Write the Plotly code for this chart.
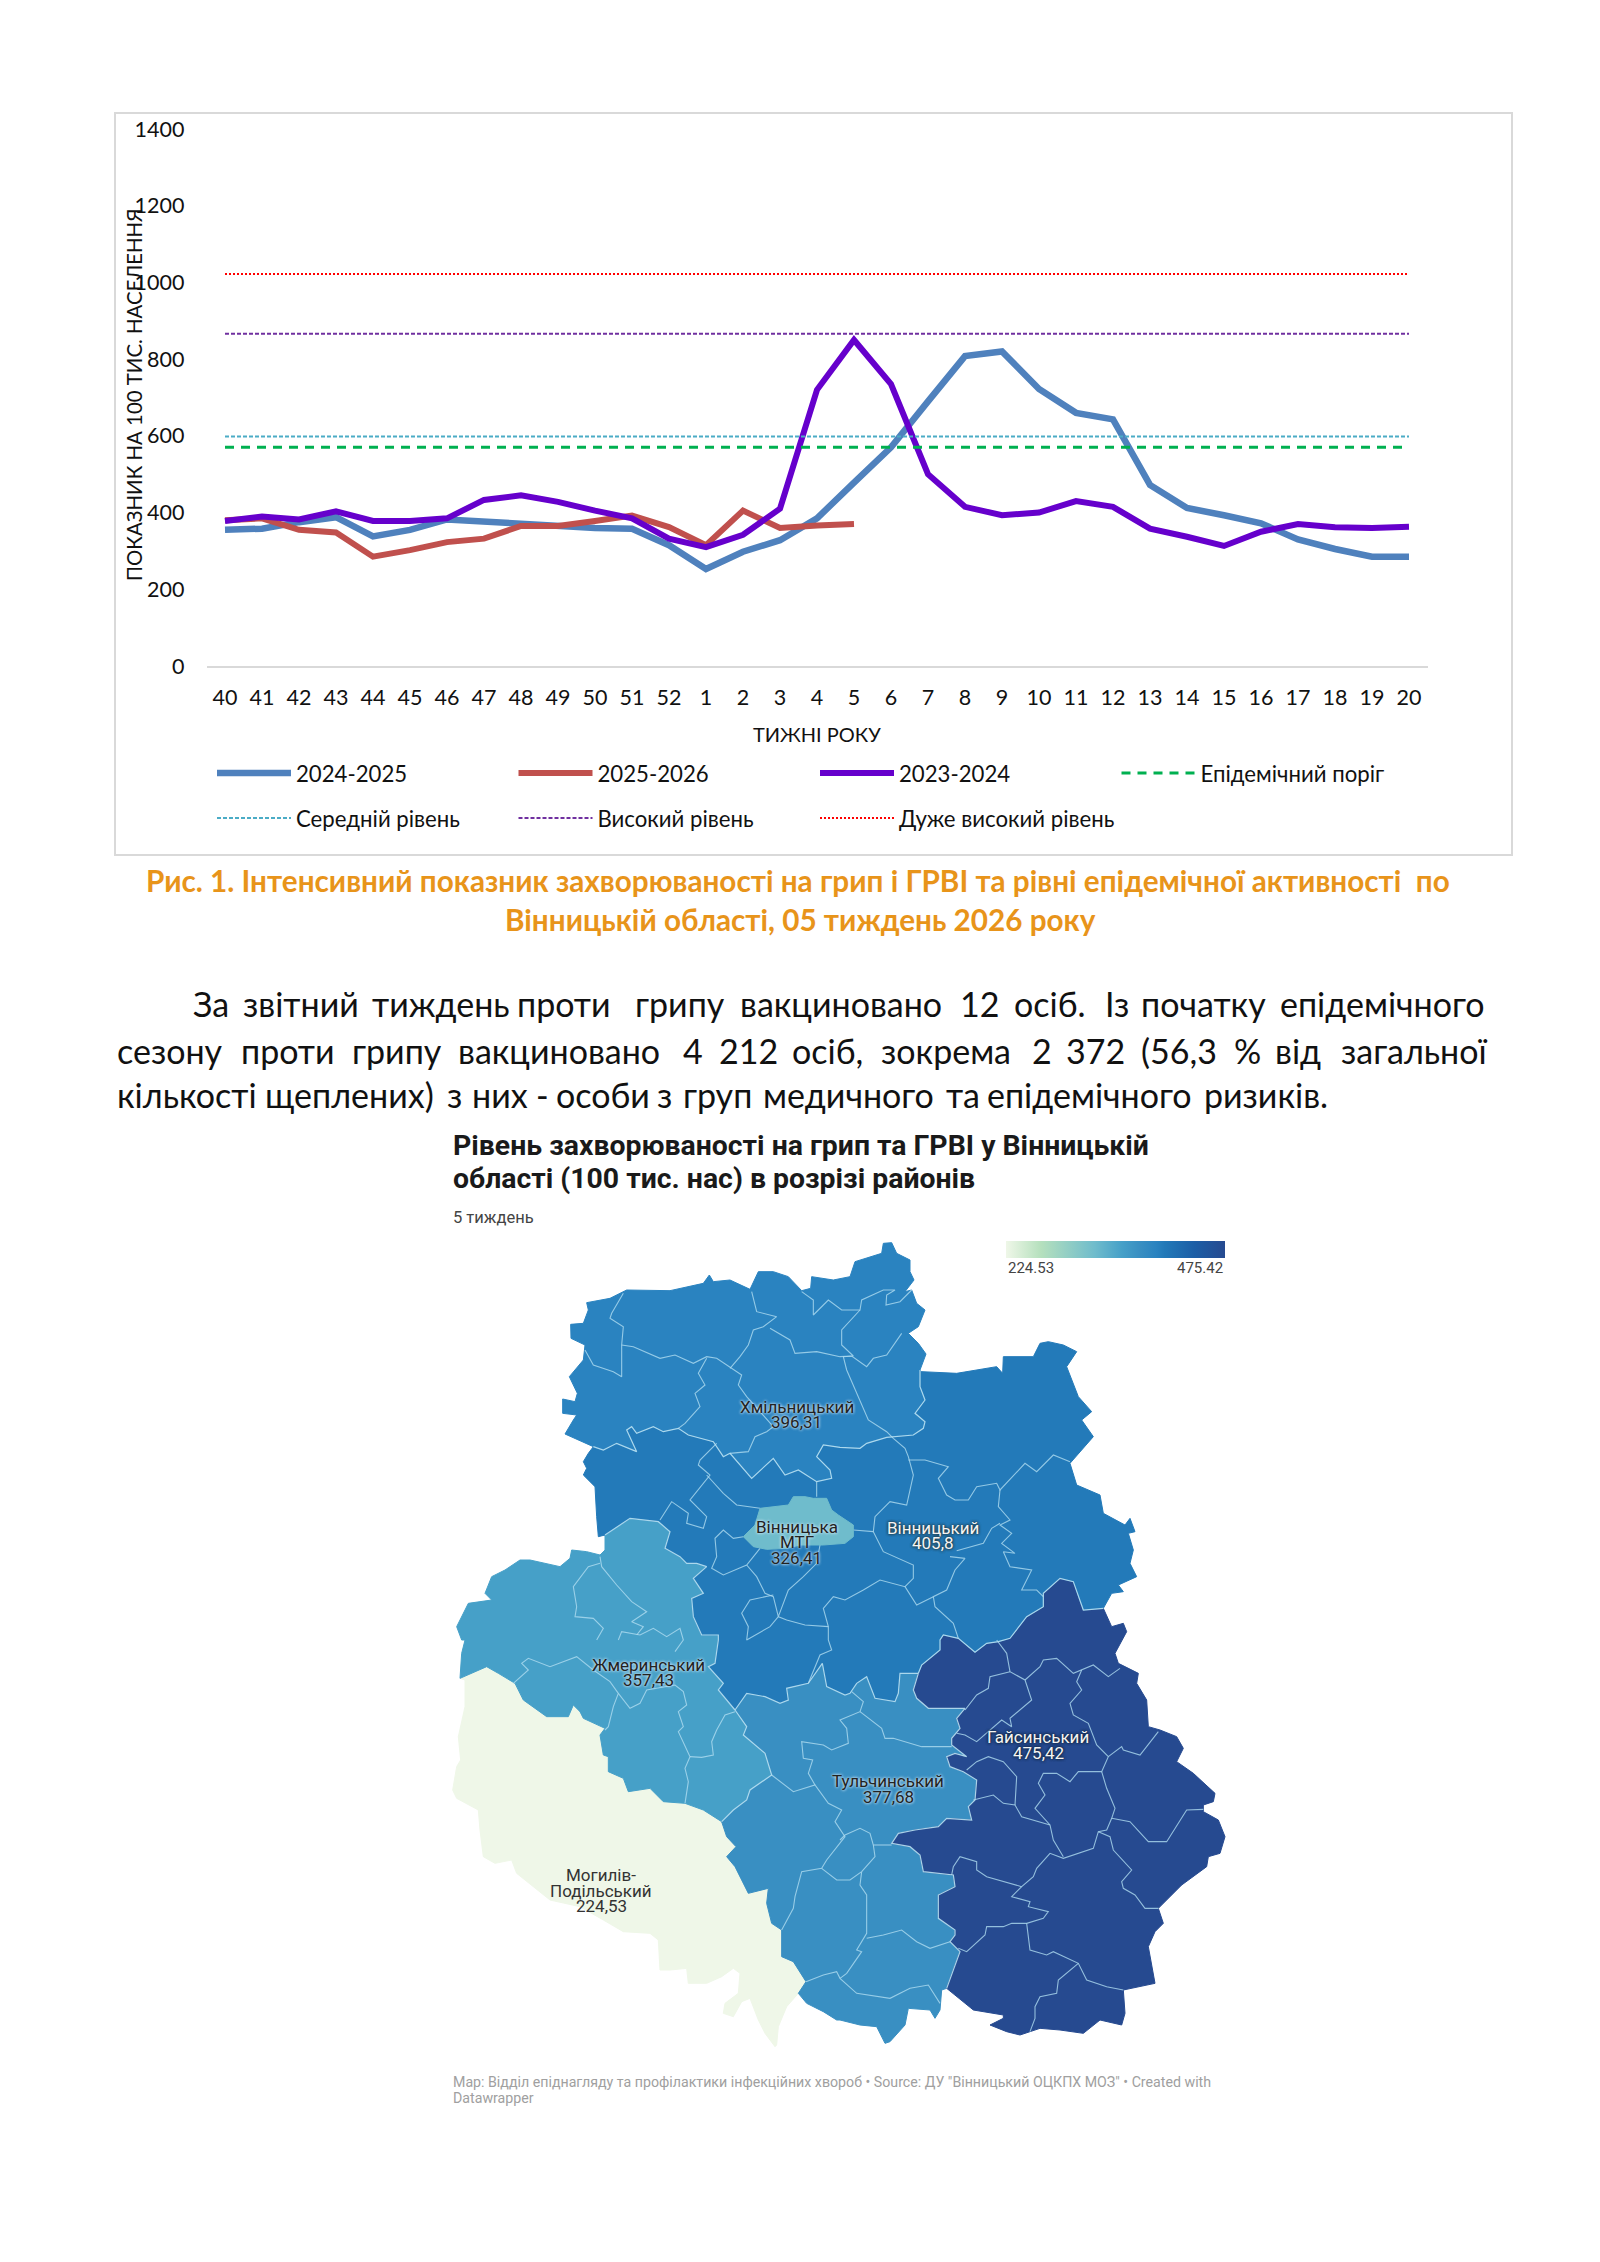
import plotly.graph_objects as go
from plotly.colors import sample_colorscale

# ---------- chart data ----------
weeks = [str(w) for w in list(range(40, 53)) + list(range(1, 21))]
season_2024_2025 = [355, 358, 375, 388, 338, 355, 382, 376, 372, 368, 360, 358, 315, 253, 298, 328, 385,
                    478, 570, 690, 808, 820, 722, 660, 643, 472, 412, 393, 372, 330, 305, 285, 285]
season_2025_2026 = [380, 385, 355, 348, 285, 302, 323, 332, 365, 365, 378, 392, 362, 315, 405, 360, 366, 370]
season_2023_2024 = [378, 390, 382, 403, 378, 378, 385, 433, 445, 428, 405, 385, 332, 310, 342, 410, 720,
                    850, 735, 500, 415, 393, 400, 430, 415, 358, 337, 313, 350, 370, 362, 360, 363]
epidemic_threshold = [570] * len(weeks)
medium_level = [598] * len(weeks)
high_level = [866] * len(weeks)
very_high_level = [1022] * len(weeks)
y_ticks = [0, 200, 400, 600, 800, 1000, 1200, 1400]

# ---------- map data: district values ----------
district_names = ["Хмільницький", "Вінницький", "Вінницька МТГ", "Жмеринський", "Тульчинський", "Гайсинський", "Могилів-Подільський"]
district_values = [396.31, 405.8, 326.41, 357.43, 377.68, 475.42, 224.53]
value_min, value_max = 224.53, 475.42
map_colorscale = [[0, "#eff7e8"], [0.16, "#b5e0bd"], [0.405, "#6fbccc"], [0.53, "#46a0c8"], [0.61, "#398fc2"],
                  [0.686, "#2a83c0"], [0.725, "#2279b8"], [0.86, "#1c5ea6"], [1, "#264a90"]]

# ---------- map outlines ----------
khm_outer = [(460,650),(425,635),(375,612),(400,570),(410,555),(368,550),(368,507),(405,515),(412,490),(388,440),(430,390),(435,345),(393,325),(392,283),(430,280),(445,240),(440,218),(510,205),(560,180),(690,182),(790,160),(808,135),(820,155),(870,150),(930,178),(955,125),(1000,125),(1045,140),(1085,182),(1112,175),(1115,140),(1180,150),(1230,140),(1245,95),(1290,80),(1325,70),(1330,40),(1355,38),(1370,70),(1410,90),(1410,125),(1422,150),(1395,185),(1415,180),(1430,220),(1455,240),(1435,290),(1415,305),(1405,310),(1435,340),(1458,372),(1440,420)]
khm_vin = [(1440,420),(1440,470),(1455,510),(1425,550),(1455,575),(1450,595),(1420,615),(1340,622),(1280,640),(1260,655),(1200,652),(1150,645),(1130,680),(1170,720),(1175,745),(1130,755),(1075,720),(1035,735),(1000,685),(935,745),(870,670),(850,680),(820,635),(745,615),(715,595),(670,605),(640,590),(590,610),(575,590),(560,600),(590,665),(530,640),(490,660),(460,650)]
vin_west = [(460,650),(445,670),(430,695),(440,715),(430,735),(465,770),(470,860),(475,920),(495,915)]
vin_zhm = [(495,915),(550,880),(570,865),(655,875),(690,905),(675,955),(720,980),(740,1000),(770,1000),(800,1010),(760,1045),(790,1090),(755,1105),(760,1160),(785,1215),(835,1215),(835,1230),(825,1300),(805,1310),(850,1360),(835,1380),(885,1440)]
vin_tul = [(885,1440),(920,1390),(975,1400),(1020,1420),(1045,1410),(1040,1375),(1105,1360),(1125,1330),(1147,1300),(1160,1370),(1215,1395),(1230,1390),(1250,1360),(1280,1340),(1305,1405),(1365,1415),(1375,1390),(1380,1330),(1435,1330)]
vin_hai = [(1435,1330),(1445,1305),(1500,1260),(1500,1230),(1510,1215),(1555,1225),(1605,1267),(1640,1240),(1675,1235),(1710,1225),(1760,1160),(1810,1130),(1810,1090),(1860,1045),(1900,1055),(1930,1140),(1990,1135)]
vin_east = [(1990,1135),(2015,1090),(2050,1085),(2035,1065),(2090,1040),(2070,1000),(2080,960),(2065,910),(2085,905),(2070,865),(2055,885),(1990,850),(1980,795),(1910,765),(1890,700),(1960,620),(1925,570),(1955,545),(1915,500),(1880,410),(1910,365),(1870,345),(1825,335),(1800,340),(1780,380),(1690,380),(1688,430),(1670,410),(1550,430),(1445,425),(1440,420)]
zhm_outer = [(495,915),(495,960),(480,975),(440,965),(395,960),(390,985),(360,1010),(270,990),(240,990),(195,1020),(155,1040),(135,1090),(155,1110),(85,1120),(50,1190),(65,1230),(75,1230),(65,1270),(60,1345)]
zhm_moh = [(60,1345),(120,1320),(140,1310),(175,1330),(225,1360),(250,1410),(320,1460),(385,1460),(400,1425),(420,1445),(430,1465),(495,1495),(480,1515),(490,1575),(505,1580),(505,1625),(550,1645),(565,1685),(630,1675),(670,1715),(735,1720),(790,1740),(845,1775)]
zhm_tul = [(845,1775),(880,1740),(920,1710),(930,1680),(995,1635),(975,1570),(910,1515),(920,1490),(885,1440)]
tul_moh = [(845,1775),(860,1820),(888,1850),(860,1880),(885,1910),(925,1990),(985,1975),(980,2020),(995,2080),(1025,2100),(1025,2180),(1060,2195),(1098,2255),(1075,2290)]
moh_outer = [(1075,2290),(1040,2330),(1015,2390),(1010,2445),(1005,2450),(975,2410),(955,2370),(930,2305),(905,2315),(880,2360),(850,2350),(855,2320),(895,2290),(900,2230),(880,2215),(845,2240),(800,2260),(745,2260),(740,2215),(690,2220),(660,2220),(655,2130),(630,2110),(550,2105),(490,2070),(420,2030),(330,2010),(230,1930),(215,1890),(165,1900),(130,1880),(120,1800),(115,1740),(50,1705),(38,1680),(50,1610),(62,1590),(55,1520),(75,1430),(75,1350),(60,1345)]
tul_hai = [(1435,1330),(1420,1380),(1430,1405),(1465,1435),(1575,1435),(1550,1465),(1560,1495),(1535,1525),(1535,1545),(1580,1580),(1545,1570),(1520,1580),(1530,1610),(1570,1625),(1610,1650),(1605,1710),(1585,1730),(1595,1770),(1520,1765),(1495,1790),(1425,1800),(1375,1810),(1355,1840),(1410,1850),(1440,1875),(1450,1925),(1540,1935),(1545,1970),(1495,1995),(1495,2065),(1545,2100),(1545,2115),(1530,2135),(1560,2165),(1520,2275)]
tul_outer = [(1520,2275),(1505,2280),(1500,2340),(1485,2365),(1470,2340),(1405,2335),(1395,2385),(1350,2435),(1335,2440),(1310,2390),(1260,2385),(1200,2370),(1190,2370),(1150,2345),(1100,2320),(1075,2290)]
mtg_outline = [(910,920),(945,885),(960,835),(1045,825),(1060,800),(1095,800),(1120,805),(1160,805),(1175,840),(1195,855),(1240,885),(1240,920),(1215,940),(1150,945),(1080,945),(1040,955),(980,958),(940,950),(910,920)]
hai_outer = [(1990,1135),(2015,1190),(2050,1180),(2060,1205),(2025,1270),(2035,1300),(2095,1330),(2090,1360),(2120,1410),(2125,1490),(2160,1500),(2210,1520),(2230,1555),(2210,1595),(2260,1630),(2325,1690),(2320,1715),(2290,1725),(2290,1745),(2335,1770),(2355,1820),(2340,1870),(2305,1880),(2300,1910),(2225,1965),(2155,2035),(2170,2080),(2145,2105),(2125,2150),(2145,2260),(2050,2280),(2055,2350),(2045,2385),(1980,2370),(1930,2410),(1860,2400),(1800,2395),(1740,2415),(1700,2405),(1650,2385),(1690,2365),(1690,2355),(1600,2340),(1520,2275)]

# ---------- thin inner community borders ----------
inner_borders = [
 [(550,190),(515,250),(510,265),(550,290),(545,345),(545,400),(545,440),(520,425),(460,405),(435,360)],
 [(545,345),(580,350),(660,385),(705,375),(760,400),(800,380),(830,385),(905,435),(895,465),(920,500),(1000,590),(980,605),(945,620),(925,665),(870,670)],
 [(800,385),(775,430),(795,465),(765,490),(780,530),(735,580),(715,595)],
 [(870,415),(900,380),(925,345),(940,300),(970,290),(1010,260),(950,245),(935,185)],
 [(990,295),(1050,330),(1065,370),(1130,365),(1200,380),(1235,378),(1280,410),(1300,385),(1340,375),(1385,310)],
 [(1085,185),(1120,210),(1120,255),(1165,210),(1205,240),(1260,240),(1265,210),(1330,180),(1365,180),(1340,195),(1338,225),(1380,215),(1415,180)],
 [(1260,240),(1205,300),(1205,345),(1240,378),(1210,380),(1220,420),(1285,570),(1340,605),(1360,625),(1395,655),(1405,680),(1420,735),(1400,825),(1350,815),(1305,860),(1300,905),(1330,965),(1420,1005),(1420,1045),(1395,1070),(1320,1050),(1270,1080),(1215,1110),(1180,1100),(1150,1135),(1165,1190),(1165,1230),(1175,1260),(1140,1275),(1105,1360)],
 [(1405,690),(1455,690),(1525,710),(1495,745),(1520,795),(1545,810),(1585,810),(1610,770),(1670,760),(1680,780),(1755,700),(1790,725),(1840,675),(1890,695)],
 [(1680,780),(1675,830),(1710,870),(1680,885),(1715,910),(1685,940),(1725,970),(1690,965),(1710,1010),(1775,1020),(1745,1080),(1790,1080),(1810,1100)],
 [(1550,962),(1630,940),(1655,895),(1680,880)],
 [(1530,980),(1575,985),(1545,1020),(1520,1080),(1480,1100),(1485,1130),(1540,1180),(1555,1225)],
 [(1395,1070),(1430,1125),(1480,1100)],
 [(1240,900),(1300,905)],
 [(830,640),(780,690),(775,705),(810,735),(750,810),(800,860),(790,895),(740,880),(745,850),(695,815),(660,870)],
 [(800,735),(850,790),(890,825),(960,835)],
 [(910,920),(880,925),(850,900),(825,925),(830,980),(815,1015),(850,1035),(920,1005),(960,955)],
 [(920,1005),(950,1040),(975,1090),(1000,1100),(1015,1160),(1045,1080),(1090,1040),(1130,1000),(1140,945)],
 [(1130,755),(1130,800)],
 [(1000,1095),(930,1110),(905,1150),(925,1190),(920,1230),(990,1190),(1015,1160),(1040,1170),(1095,1185),(1165,1190)],
 [(480,1000),(445,1010),(400,1070),(410,1130),(405,1160),(460,1165),(490,1195),(470,1230)],
 [(480,980),(485,1010),(530,1065),(575,1115),(620,1145),(590,1165),(575,1175),(610,1190),(590,1215)],
 [(535,1230),(545,1205),(600,1215),(640,1195),(680,1220),(720,1195),(730,1230),(705,1265)],
 [(220,1360),(265,1320),(245,1300),(265,1285),(330,1310),(410,1280),(460,1320),(510,1355),(535,1390),(520,1430),(505,1490),(495,1500)],
 [(535,1390),(570,1435),(600,1420),(620,1380),(705,1365),(730,1385),(740,1425),(715,1445),(730,1490),(715,1505),(750,1580),(735,1615),(745,1655),(735,1720)],
 [(750,1580),(785,1582),(820,1575),(815,1535),(830,1500),(855,1455),(885,1445)],
 [(995,1635),(1060,1685),(1125,1665),(1165,1720),(1205,1740),(1185,1775),(1215,1820),(1160,1890),(1145,1915),(1085,1925),(1065,2000),(1060,2035),(1025,2100)],
 [(1125,1665),(1105,1630),(1118,1590),(1090,1585),(1085,1535),(1150,1545),(1175,1560),(1200,1550),(1225,1540),(1220,1495),(1200,1470),(1260,1445),(1270,1415),(1235,1385)],
 [(1260,1445),(1325,1495),(1335,1525),(1360,1525),(1445,1550),(1535,1550)],
 [(1145,1915),(1190,1950),(1230,1950),(1265,1925),(1260,1965),(1280,1995),(1280,2110),(1250,2160),(1265,2165),(1220,2230),(1200,2245)],
 [(1098,2255),(1150,2235),(1190,2225),(1200,2245),(1250,2290),(1285,2295),(1350,2305),(1410,2275),(1465,2265),(1500,2320)],
 [(1280,2125),(1330,2115),(1385,2100),(1430,2135),(1470,2155),(1530,2135)],
 [(1265,1925),(1305,1880),(1300,1845),(1290,1810),(1260,1795),(1215,1815),(1200,1830)],
 [(1300,1845),(1355,1845)],
 [(1670,1230),(1700,1270),(1710,1325),(1755,1350),(1775,1410),(1710,1465),(1715,1490),(1685,1470),(1610,1535),(1575,1515),(1550,1510)],
 [(1710,1325),(1650,1340),(1645,1375),(1610,1395),(1575,1440)],
 [(1755,1350),(1800,1310),(1810,1290),(1850,1285),(1900,1330),(1960,1305),(2005,1340),(2040,1315)],
 [(1925,1320),(1910,1355),(1925,1380),(1890,1420),(1900,1455),(1945,1480),(1970,1545),(2005,1580),(1985,1625),(1915,1625),(1890,1655),(1850,1630),(1810,1630),(1795,1660),(1815,1695),(1785,1735),(1830,1785),(1840,1830),(1870,1880)],
 [(2005,1580),(2045,1550),(2050,1560),(2100,1575),(2155,1505)],
 [(1985,1625),(2000,1675),(2025,1735),(2015,1765),(2000,1800),(1975,1805),(1960,1855),(1870,1885),(1830,1870),(1790,1915),(1780,1940),(1745,1970),(1715,2000),(1770,2015),(1765,2030),(1825,2045),(1810,2065),(1760,2080),(1715,2080),(1690,2090),(1640,2090),(1635,2115),(1580,2165),(1555,2155)],
 [(2015,1765),(2070,1775),(2125,1835),(2180,1835),(2240,1740),(2290,1738)],
 [(1975,1805),(2010,1820),(2020,1860),(2075,1920),(2045,1955),(2050,1975),(2085,1995),(2115,2035),(2155,2035)],
 [(1760,2080),(1770,2160),(1820,2175),(1840,2165),(1915,2200),(1940,2250),(2000,2270),(2050,2280)],
 [(1915,2200),(1855,2250),(1850,2290),(1800,2300),(1785,2330),(1785,2365),(1770,2405)],
 [(1745,1970),(1640,1940),(1610,1920),(1610,1895),(1560,1880),(1540,1910),(1535,1935)],
 [(1600,1710),(1660,1695),(1690,1720),(1725,1725),(1745,1760),(1830,1785)],
 [(1725,1725),(1730,1640),(1690,1595),(1645,1580),(1610,1595),(1580,1620)],
]
raion_borders = [khm_vin, vin_zhm, vin_tul, vin_hai, zhm_tul, tul_hai]

# ---------- page text ----------
caption = ["Рис. 1. Інтенсивний показник захворюваності на грип і ГРВІ та рівні епідемічної активності  по",
           "Вінницькій області, 05 тиждень 2026 року"]
body_line1 = "За звітний тиждень проти грипу вакциновано 12 осіб. Із початку епідемічного".split()
body_line2 = "сезону проти грипу вакциновано 4 212 осіб, зокрема 2 372 (56,3 % від загальної".split()
body_line3 = "кількості щеплених) з них - особи з груп медичного та епідемічного ризиків.".split()
map_title = ["Рівень захворюваності на грип та ГРВІ у Вінницькій", "області (100 тис. нас) в розрізі районів"]
map_subtitle = "5 тиждень"
map_footer = ["Map: Відділ епіднагляду та профілактики інфекційних хвороб • Source: ДУ \"Вінницький ОЦКПХ МОЗ\" • Created with", "Datawrapper"]

# ---------- page geometry (the browser adds an 8 px body margin) ----------
W, H, M = 1584, 2246, 8
def px(x): return (x - M) / W
def py(y): return 1 - (y - M) / H

fig = go.Figure()
LINE_AXES = dict(xaxis="x", yaxis="y")
def series(name, values, color, width, dash="solid", legend="legend"):
    fig.add_trace(go.Scatter(x=weeks[:len(values)], y=values, name=name, mode="lines", legend=legend,
                             line=dict(color=color, width=width, dash=dash, shape="linear"), **LINE_AXES))

series("2024-2025", season_2024_2025, "#4F81BD", 6.5)
series("2025-2026", season_2025_2026, "#C0504D", 6)
series("2023-2024", season_2023_2024, "#6600CC", 6)
series("Епідемічний поріг", epidemic_threshold, "#00B050", 3, "9px,7px")
series("Середній рівень", medium_level, "#4BACC6", 2, "4px,2px", "legend2")
series("Високий рівень", high_level, "#7030A0", 2, "4px,2px", "legend2")
series("Дуже високий рівень", very_high_level, "#FF0000", 2, "2px,2px", "legend2")

# map
def fill_color(v):
    return sample_colorscale(map_colorscale, [(v - value_min) / (value_max - value_min)])[0]

def polygon(name, pts, value):
    c = fill_color(value)
    fig.add_trace(go.Scatter(x=[p[0] for p in pts], y=[p[1] for p in pts], name=name, mode="lines", fill="toself",
                             fillcolor=c, line=dict(color=c, width=1), showlegend=False, xaxis="x2", yaxis="y2",
                             hoverinfo="name"))

polygon("Могилів-Подільський", zhm_moh + tul_moh + moh_outer, 224.53)
polygon("Жмеринський", zhm_outer + zhm_moh + zhm_tul + vin_zhm[::-1], 357.43)
polygon("Тульчинський", vin_tul + tul_hai + tul_outer + tul_moh[::-1] + zhm_tul, 377.68)
polygon("Гайсинський", vin_hai + hai_outer + tul_hai[::-1], 475.42)
polygon("Вінницький", vin_west + vin_zhm + vin_tul + vin_hai + vin_east + khm_vin, 405.8)
polygon("Хмільницький", khm_outer + khm_vin, 396.31)

def border(pts, color, width):
    fig.add_trace(go.Scatter(x=[p[0] for p in pts], y=[p[1] for p in pts], mode="lines", showlegend=False,
                             hoverinfo="skip", line=dict(color=color, width=width), xaxis="x2", yaxis="y2"))
for b in inner_borders:
    border(b, "rgba(175,220,240,0.8)", 1.1)
for b in raion_borders:
    border(b, "rgba(185,225,242,0.9)", 1.2)
polygon("Вінницька МТГ", mtg_outline, 326.41)

# colour scale legend, fed by the district values
label_lines = [
    (["Хмільницький", "396,31"], 1070, 553, "#222", "0 0 3px #cfe6f5, 0 0 3px #cfe6f5"),
    (["Вінницький", "405,8"], 1480, 917, "#f4f4f4", "0 0 3px #233, 0 0 3px #233"),
    (["Вінницька", "МТГ", "326,41"], 1070, 937, "#222", "0 0 3px #cfe6f5, 0 0 3px #cfe6f5"),
    (["Жмеринський", "357,43"], 625, 1327, "#222", "0 0 3px #cfe6f5, 0 0 3px #cfe6f5"),
    (["Тульчинський", "377,68"], 1345, 1677, "#222", "0 0 3px #cfe6f5, 0 0 3px #cfe6f5"),
    (["Гайсинський", "475,42"], 1795, 1545, "#f4f4f4", "0 0 3px #123, 0 0 3px #123"),
    (["Могилів-", "Подільський", "224,53"], 483, 1982, "#333", "none"),
]
fig.add_trace(go.Scatter(x=[t[1] for t in label_lines], y=[t[2] for t in label_lines], mode="markers", showlegend=False,
                         hoverinfo="skip", xaxis="x2", yaxis="y2",
                         marker=dict(size=1, opacity=0, color=[396.31, 405.8, 326.41, 357.43, 377.68, 475.42, 224.53],
                                     colorscale=map_colorscale, cmin=value_min, cmax=value_max, showscale=True,
                                     colorbar=dict(orientation="h", x=px(1006), xanchor="left", xref="paper",
                                                   y=py(1258), yanchor="bottom", yref="paper", len=219, lenmode="pixels",
                                                   thickness=17, thicknessmode="pixels", outlinewidth=0, xpad=0, ypad=0,
                                                   ticks="", showticklabels=False))))

annotations = []
def text(t, x, y, size, color="#000", family="Lato", anchor="left", bold=False, **kw):
    annotations.append(dict(text=f"<b>{t}</b>" if bold else t, x=px(x), y=py(y), xref="paper", yref="paper", showarrow=False,
                            xanchor=anchor, yanchor="middle", font=dict(size=size, color=color, family=family), **kw))

# chart axis titles and frame text
text("ПОКАЗНИК НА 100 ТИС. НАСЕЛЕННЯ", 134, 395, 20.4, "#111", anchor="center", textangle=-90)
text("ТИЖНІ РОКУ", 817, 734, 20, "#111", anchor="center")
# caption
text(caption[0], 798, 880, 29.7, "#E8941A", anchor="center", bold=True)
text(caption[1], 800, 920, 29.7, "#E8941A", anchor="center", bold=True)
# justified body
for w, x in zip(body_line1, [191, 241, 370, 515, 633, 738, 958, 1012, 1103, 1139, 1278]):
    text(w, x, 1004, 34, "#111")
for w, x in zip(body_line2, [115, 239, 350, 456, 681, 717, 790, 879, 1030, 1064, 1139, 1232, 1273, 1339]):
    text(w, x, 1050, 34, "#111")
for w, x in zip(body_line3, [115, 263, 445, 470, 534, 554, 655, 681, 761, 944, 985, 1202]):
    text(w, x, 1095, 34, "#111")
# map head, foot
text(map_title[0], 451, 1145, 28.4, "#1a1a1a", "Roboto", bold=True)
text(map_title[1], 451, 1178, 28.4, "#1a1a1a", "Roboto", bold=True)
text(map_subtitle, 451, 1217, 16.5, "#444", "Roboto")
text(map_footer[0], 451, 2082, 14.2, "#a0a0a0", "Roboto")
text(map_footer[1], 451, 2098, 14.2, "#a0a0a0", "Roboto")
text("224.53", 1006, 1268, 15, "#444", "Roboto")
text("475.42", 1225, 1268, 15, "#444", "Roboto", anchor="right")
# district labels: one annotation per line for tight leading
for lines, ux, vy, col, shadow in label_lines:
    n = len(lines)
    for i, ln in enumerate(lines):
        annotations.append(dict(text=ln, x=ux, y=vy + (i - (n - 1) / 2) * 46, xref="x2", yref="y2", showarrow=False,
                                xanchor="center", yanchor="middle",
                                font=dict(size=17, color=col, family="Roboto", shadow=shadow)))

fig.update_layout(
    width=W, height=H, margin=dict(l=0, r=0, t=0, b=0, autoexpand=False), paper_bgcolor="white", plot_bgcolor="rgba(0,0,0,0)",
    font=dict(family="Lato", color="#111"), annotations=annotations, hovermode=False,
    xaxis=dict(domain=[px(206.5), px(1427.5)], type="category", categoryorder="array", categoryarray=weeks, tickmode="array",
               tickvals=weeks, ticktext=weeks, showgrid=False, showline=True, linecolor="#D9D9D9", linewidth=2, ticks="",
               tickfont=dict(size=21.5, color="#111"), ticklabelstandoff=11, zeroline=False, tickangle=0, anchor="y",
               range=[-0.5, 32.5]),
    yaxis=dict(domain=[py(666), py(129)], range=[0, 1400], tickmode="array", tickvals=y_ticks, showgrid=False, showline=False,
               zeroline=False, ticks="", tickfont=dict(size=21.5, color="#111"), ticklabelstandoff=21, anchor="x"),
    xaxis2=dict(domain=[px(440), px(1250)], range=[0, 2430], visible=False, anchor="y2"),
    yaxis2=dict(domain=[py(2050), py(1230)], range=[2460, 0], visible=False, anchor="x2"),
    legend=dict(orientation="h", x=px(212), y=py(773), xanchor="left", yanchor="middle", entrywidth=212.5, entrywidthmode="pixels",
                itemwidth=74, font=dict(size=22.2, color="#111", family="Lato"), bgcolor="rgba(0,0,0,0)", tracegroupgap=0),
    legend2=dict(orientation="h", x=px(212), y=py(818), xanchor="left", yanchor="middle", entrywidth=212.5, entrywidthmode="pixels",
                 itemwidth=74, font=dict(size=22.2, color="#111", family="Lato"), bgcolor="rgba(0,0,0,0)", tracegroupgap=0),
    shapes=[dict(type="rect", xref="paper", yref="paper", x0=px(115), x1=px(1512), y0=py(113), y1=py(855),
                 line=dict(color="#D9D9D9", width=2), fillcolor="rgba(0,0,0,0)", layer="below")],
)
fig.write_html("out.html")
